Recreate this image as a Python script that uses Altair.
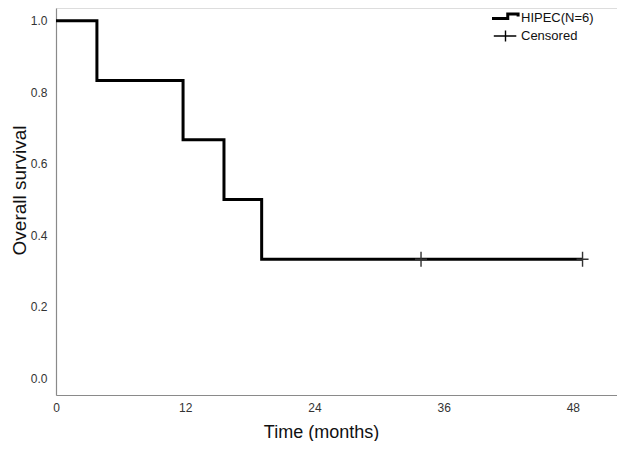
import altair as alt
import pandas as pd

# Kaplan-Meier step values
step_times = [0, 3.8, 11.8, 15.6, 19.1, 48.9]
step_surv = [1.0, 0.833, 0.667, 0.5, 0.333, 0.333]
censor_times = [33.9, 48.9]
censor_surv = [0.333, 0.333]
legend_labels = ["HIPEC(N=6)", "Censored"]
x_ticks = [0, 12, 24, 36, 48]
y_ticks = [0.0, 0.2, 0.4, 0.6, 0.8, 1.0]

step_df = pd.DataFrame({"t": step_times, "s": step_surv})
cens_df = pd.DataFrame({"t": censor_times, "s": censor_surv})
leg_df = pd.DataFrame({"series": legend_labels})

FONT = "Liberation Sans"

x_enc = alt.X(
    "t:Q",
    scale=alt.Scale(domain=[0, 52.1], nice=False, zero=False),
    axis=alt.Axis(
        values=x_ticks, title="Time (months)", grid=False, ticks=False,
        domainColor="#8a8a8a", domainWidth=1.2, labelFontSize=12, labelPadding=7,
        labelColor="#333333", labelFlush=False, titleX=265, titleY=42,
        titleBaseline="alphabetic", titleFontSize=18, titleFontWeight="normal",
        titleColor="#111111", labelFont=FONT, titleFont=FONT,
    ),
)
y_enc = alt.Y(
    "s:Q",
    scale=alt.Scale(domain=[-0.0467, 1.0355], nice=False, zero=False),
    axis=alt.Axis(
        values=y_ticks, format=".1f", title="Overall survival", grid=False,
        ticks=False, domainColor="#8a8a8a", domainWidth=1.2, labelFontSize=12,
        labelPadding=9, labelColor="#333333", titleX=-31, titleY=182,
        titleAngle=-90, titleBaseline="alphabetic", titleFontSize=19,
        titleFontWeight="normal", titleColor="#111111", labelFont=FONT,
        titleFont=FONT,
    ),
)

step_line = alt.Chart(step_df).mark_line(
    interpolate="step-after", color="black", strokeWidth=3
).encode(x=x_enc, y=y_enc)

censor_pts = alt.Chart(cens_df).mark_point(
    shape="M-0.8,0H0.8M0,-1V1", size=225, color="#333333",
    strokeWidth=1.4, filled=False, opacity=1
).encode(x="t:Q", y="s:Q")

step_path = "M-1.5,0.1H0.25V-0.4H1.4V-0.1"
cross_path = "M-1.3,0H1.2M0,-0.6V0.6"

legend = alt.Legend(
    title=None, orient="none", legendX=439, legendY=-1, padding=0,
    symbolSize=324, labelFontSize=13, labelFont=FONT, labelColor="#111111",
    labelOffset=5, rowPadding=1, symbolStrokeColor="black",
    symbolFillColor="transparent",
)

legend_layer = alt.Chart(leg_df).transform_filter("false").mark_point(
    color="black", filled=False, opacity=1
).encode(
    shape=alt.Shape("series:N", scale=alt.Scale(domain=legend_labels, range=[step_path, cross_path]), legend=legend),
    strokeWidth=alt.StrokeWidth("series:N", scale=alt.Scale(domain=legend_labels, range=[3, 1.4]), legend=legend),
)

chart = alt.layer(step_line, censor_pts, legend_layer).properties(
    width=561, height=387,
    autosize=alt.AutoSizeParams(type="none"),
    padding={"left": 48, "top": 0, "right": 0, "bottom": 46},
).configure_view(stroke=None).configure(font=FONT).configure_legend(
    labelFontSize=13, labelFont=FONT, labelColor="#111111", labelOffset=5,
    rowPadding=1, padding=0, symbolSize=324,
)

chart.save("out.html", embed_options={"renderer": "svg", "actions": False})
